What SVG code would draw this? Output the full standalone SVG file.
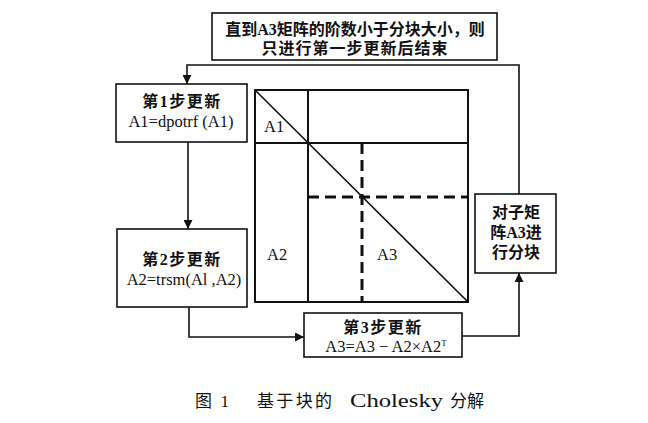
<svg xmlns="http://www.w3.org/2000/svg" width="648" height="423" viewBox="0 0 648 423">
<style>
.box{fill:#fff;stroke:#111;stroke-width:1.6}
.ln{fill:none;stroke:#111;stroke-width:1.6}
.mx{fill:none;stroke:#111;stroke-width:2}
.dash{fill:none;stroke:#111;stroke-width:3;stroke-dasharray:11 6}
.cj{font-family:"Liberation Serif","Noto Sans CJK SC",serif;font-weight:bold;font-size:16px;fill:#111}
.lt{font-family:"Liberation Serif","Noto Sans CJK SC",serif;font-size:16.5px;fill:#111}
.cap{font-family:"Liberation Serif","Noto Sans CJK SC",serif;font-size:17px;fill:#111}
</style>
<defs>
<marker id="ah" viewBox="0 0 10 10" refX="10" refY="5" markerWidth="9" markerHeight="9" markerUnits="userSpaceOnUse" orient="auto">
<path d="M0,0 L10,5 L0,10 z" fill="#111"/>
</marker>
</defs>
<rect width="648" height="423" fill="#fff"/>
<g id="connectors">
<path class="ln" d="M519,194 V65 H187 V84" marker-end="url(#ah)"/>
<path class="ln" d="M188,142 V229" marker-end="url(#ah)"/>
<path class="ln" d="M189,307 V337 H304" marker-end="url(#ah)"/>
<path class="ln" d="M462,336 H519 V273" marker-end="url(#ah)"/>
</g>
<g id="note">
<rect class="box" x="212" y="13" width="285" height="47"/>
<text class="cj" x="355" y="35" text-anchor="middle">直到A3矩阵的阶数小于分块大小，则</text>
<text class="cj" x="355" y="54" text-anchor="middle" letter-spacing="1">只进行第一步更新后结束</text>
</g>
<g id="step1">
<rect class="box" x="116" y="84" width="131" height="58"/>
<text class="cj" x="182" y="107" text-anchor="middle" letter-spacing="1.5">第1步更新</text>
<text class="lt" x="181" y="127" text-anchor="middle" font-size="17">A1=dpotrf (A1)</text>
</g>
<g id="step2">
<rect class="box" x="117" y="229" width="130" height="78"/>
<text class="cj" x="182" y="265" text-anchor="middle" letter-spacing="1.5">第2步更新</text>
<text class="lt" x="184" y="285" text-anchor="middle" font-size="17">A2=trsm(Al ,A2)</text>
</g>
<g id="step3">
<rect class="box" x="304" y="313" width="158" height="44"/>
<text class="cj" x="383" y="333" text-anchor="middle" letter-spacing="1.5">第3步更新</text>
<text class="lt" x="386" y="352" text-anchor="middle" font-size="15">A3=A3 − A2×A2<tspan font-size="9" dy="-6">T</tspan></text>
</g>
<g id="partition">
<rect class="box" x="475" y="194" width="81" height="79"/>
<text class="cj" x="516" y="218" text-anchor="middle">对子矩</text>
<text class="cj" x="516" y="238" text-anchor="middle">阵A3进</text>
<text class="cj" x="516" y="258" text-anchor="middle">行分块</text>
</g>
<g id="matrix">
<rect class="mx" x="255" y="90" width="213" height="212"/>
<line class="mx" x1="308" y1="90" x2="308" y2="302"/>
<line class="mx" x1="255" y1="143" x2="468" y2="143"/>
<line class="dash" x1="308" y1="197" x2="468" y2="197"/>
<line class="dash" x1="362" y1="143" x2="362" y2="302"/>
<line class="ln" x1="255" y1="90" x2="468" y2="302"/>
<text class="lt" x="264" y="132">A1</text>
<text class="lt" x="267" y="260">A2</text>
<text class="lt" x="377" y="260">A3</text>
</g>
<g id="caption">
<text class="cap" x="195" y="407" textLength="34" lengthAdjust="spacing">图 1</text>
<text class="cap" x="257" y="407"><tspan textLength="75" lengthAdjust="spacing">基于块的</tspan> <tspan x="350" font-size="19" textLength="93" lengthAdjust="spacingAndGlyphs">Cholesky</tspan> <tspan x="450">分解</tspan></text>
</g>
</svg>
